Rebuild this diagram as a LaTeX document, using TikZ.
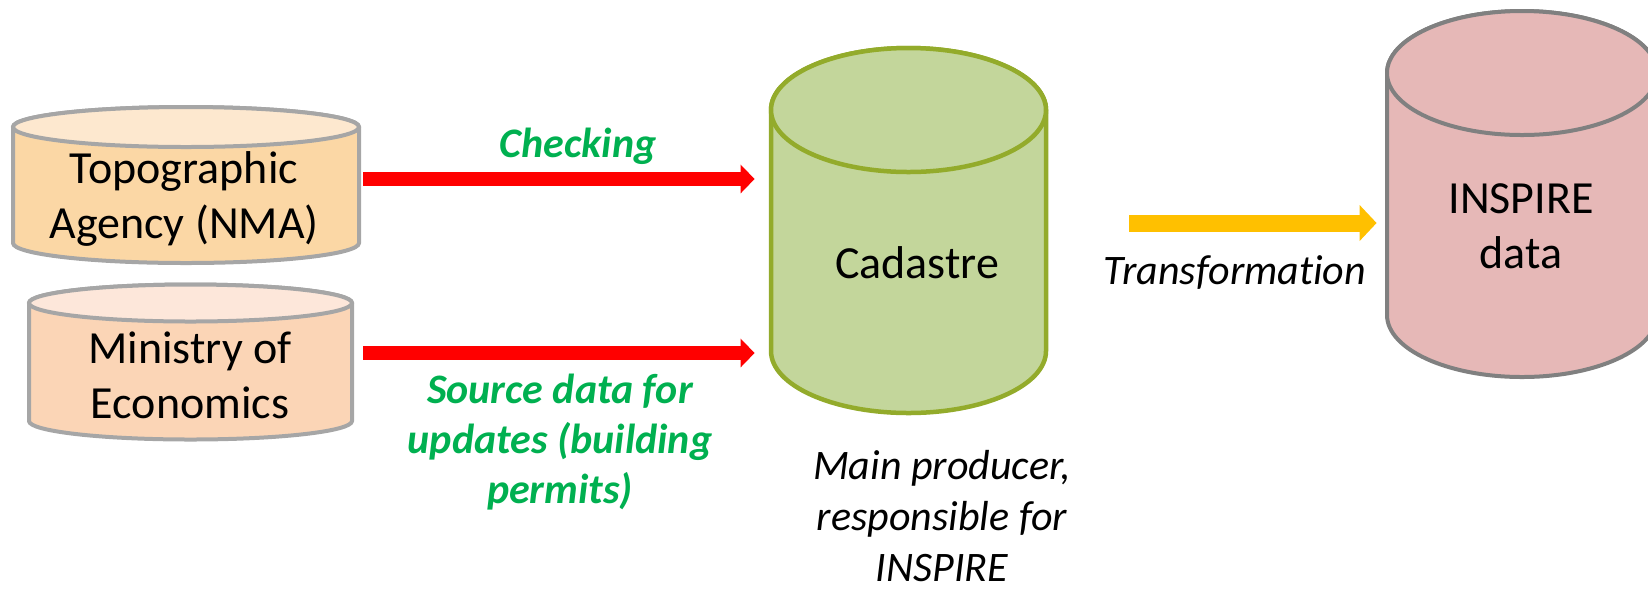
\documentclass[tikz,border=0pt]{standalone}
\usepackage{fontspec}
\setmainfont{Carlito}[Ligatures=NoCommon]
\usetikzlibrary{arrows.meta,fit}

\definecolor{topobody}{HTML}{FBD7A5}
\definecolor{topotop}{HTML}{FDE8CF}
\definecolor{minibody}{HTML}{FBD5B6}
\definecolor{minitop}{HTML}{FDE7DA}
\definecolor{cadfill}{HTML}{C3D69B}
\definecolor{cadline}{HTML}{93AB2B}
\definecolor{inspfill}{HTML}{E6B8B7}
\definecolor{canline}{HTML}{A6A6A6}
\definecolor{inspline}{HTML}{808080}
\definecolor{lblgreen}{HTML}{00B050}
\definecolor{arryellow}{HTML}{FFC000}

% a can: name, cx, top y, bottom y, rx, ry, line style, top fill
\newcommand{\dbcan}[8]{%
  \draw[#7] ({#2-#5},{#3}) -- ({#2-#5},{#4})
     arc[start angle=180,end angle=360,x radius=#5,y radius=#6]
     -- ({#2+#5},{#3})
     arc[start angle=0,end angle=180,x radius=#5,y radius=#6] -- cycle;
  \draw[#7,fill=#8] (#2,#3) ellipse[x radius=#5,y radius=#6];
  \node[fit={({#2-#5},{#3+#6}) ({#2+#5},{#4-#6})},inner sep=0pt] (#1) {};}

\begin{document}
\begin{tikzpicture}[x=0.5pt,y=0.5pt,
  cantext/.style={align=center,anchor=base,font=\fontsize{23pt}{27.5pt}\selectfont},
  greenlbl/.style={align=center,anchor=base,text=lblgreen,
    font=\fontsize{21pt}{25pt}\selectfont\bfseries\itshape},
  blacklbl/.style={align=center,anchor=base,inner sep=0pt,font=\fontsize{21pt}{25.5pt}\selectfont\itshape},
  redarr/.style={draw=red,line width=7pt,-{Triangle[width=14pt,length=7pt]}},
  yelarr/.style={draw=arryellow,line width=8.5pt,-{Triangle[width=17.5pt,length=8.5pt]}}]
\useasboundingbox (0,0) rectangle (1648,-591);
\clip (0,0) rectangle (1648,-591);

\dbcan{topo}{186}{-127}{-243}{173}{20}{draw=canline,line width=2pt,fill=topobody}{topotop}
\dbcan{mini}{190.5}{-303}{-421}{161.5}{18.5}{draw=canline,line width=2pt,fill=minibody}{minitop}
\dbcan{cad}{908.5}{-110}{-351}{137.5}{62}{draw=cadline,line width=2.25pt,fill=cadfill}{cadfill}
\dbcan{insp}{1522}{-73}{-315}{135}{62}{draw=inspline,line width=2pt,fill=inspfill}{inspfill}

% multi-line nodes sit on their last line
\node[cantext] (topotxt) at (184,-238) {Topographic\\Agency (NMA)};
\node[cantext] (minitxt) at (190,-418) {Ministry of\\Economics};
\node[cantext] (cadtxt) at (917,-278) {Cadastre};
\node[cantext] (insptxt) at (1521,-268) {INSPIRE\\data};

% flows
\draw[redarr] ([xshift=2pt,yshift=3pt]topo.east) -- ([xshift=-8pt,yshift=3pt]cad.west |- topo.east);
\draw[redarr] ([xshift=5.5pt,yshift=4.5pt]mini.east) -- ([xshift=-8pt,yshift=4.5pt]cad.west |- mini.east);
\draw[yelarr] ([xshift=41.5pt,yshift=3.75pt]cad.east) -- ([xshift=-5pt,yshift=3.75pt]insp.west |- cad.east);

\node[greenlbl] (chk) at (578,-157) {Checking};
\node[greenlbl] (src) at (560,-503) {Source data for\\updates (building\\permits)};
\node[blacklbl] (trf) at (1235,-284) {Transformation};
\node[blacklbl] (prod) at (942,-581) {Main producer,\\responsible for\\INSPIRE};
\end{tikzpicture}
\end{document}
